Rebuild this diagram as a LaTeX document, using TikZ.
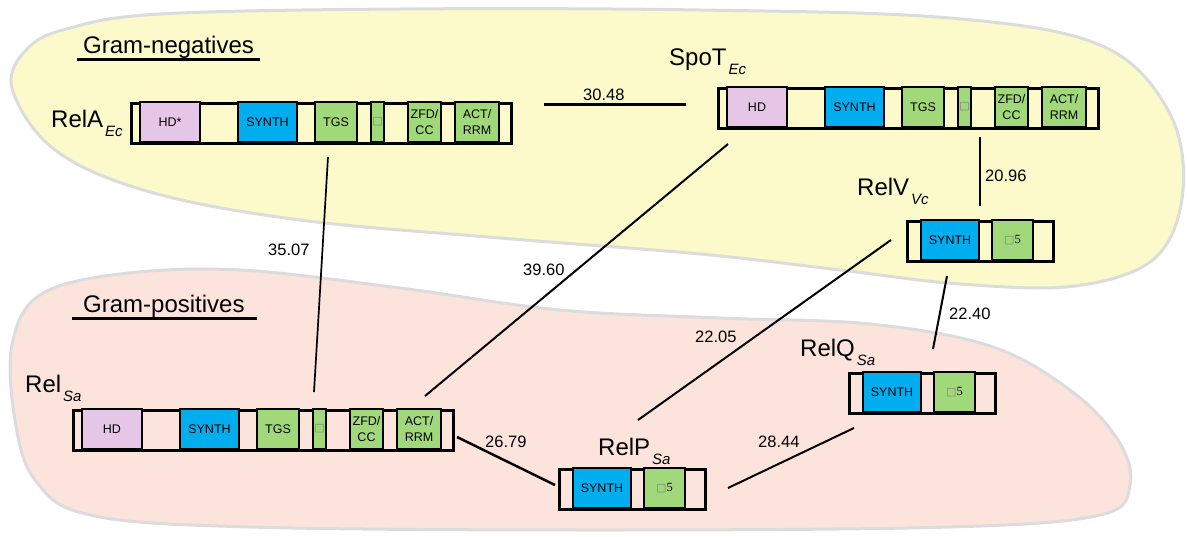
\documentclass[tikz,border=0pt]{standalone}
\usepackage{fontspec}
\setmainfont{Liberation Sans}
\newfontfamily\symfont{DejaVu Sans}
\newfontfamily\serfont{Liberation Serif}

\definecolor{negyellow}{HTML}{FCF9CA}
\definecolor{pospink}{HTML}{FCE4DD}
\definecolor{hdpurple}{HTML}{E6C6E6}
\definecolor{synthblue}{HTML}{00AEEF}
\definecolor{domgreen}{HTML}{A1D97A}
\definecolor{blobline}{HTML}{DCDCDC}

\tikzset{
  relframe/.style={draw, line width=2.5pt, minimum height=40pt, inner sep=0pt, anchor=north west},
  dom/.style={draw, line width=2.5pt, minimum height=40pt, inner sep=0pt,
    font=\fontsize{12.5}{16}\selectfont, align=center},
  hd/.style={dom, fill=hdpurple},
  synth/.style={dom, fill=synthblue},
  grn/.style={dom, fill=domgreen},
  protname/.style={font=\fontsize{24}{24}\selectfont, inner sep=0pt, anchor=base west},
  grouplbl/.style={font=\fontsize{24}{24}\selectfont, inner sep=0pt, anchor=base west},
  dist/.style={font=\fontsize{16.5}{16.5}\selectfont, inner sep=0pt, anchor=base west},
  link/.style={line width=2pt},
  blob/.style={draw=blobline, line width=3pt},
}

\newcommand{\sub}[1]{\kern2pt\raisebox{-9pt}{\fontsize{15}{15}\selectfont\itshape #1}}
\newcommand{\sqglyph}{{\symfont\fontsize{11}{11}\selectfont\color{black!50}□}}

% long protein: name, x, y, HD label
\newcommand{\longrel}[4]{%
  \begin{scope}[shift={(#2,#3)}]
    \node[relframe, minimum width=380pt] (#1) at (0,0) {};
    \node[hd, minimum width=60pt] (#1-hd) at (40,20) {#4};
    \node[synth, minimum width=59pt] (#1-syn) at (137.5,20) {SYNTH};
    \node[grn, minimum width=42pt] (#1-tgs) at (206,20) {TGS};
    \node[grn, minimum width=13pt] (#1-sm) at (247.5,20) {\sqglyph};
    \node[grn, minimum width=33pt] (#1-zfd) at (294.5,20) {ZFD/\\CC};
    \node[grn, minimum width=44pt] (#1-act) at (347,20) {ACT/\\RRM};
  \end{scope}}

% short protein: name, x, y
\newcommand{\shortrel}[3]{%
  \begin{scope}[shift={(#2,#3)}]
    \node[relframe, minimum width=146pt] (#1) at (0,0) {};
    \node[synth, minimum width=58pt] (#1-syn) at (44,20) {SYNTH};
    \node[grn, minimum width=41pt] (#1-d5) at (106.5,20) {\sqglyph{\serfont 5}};
  \end{scope}}

\begin{document}
\begin{tikzpicture}[x=1pt, y=-1pt]
  \useasboundingbox (0,0) rectangle (1187,536);
  % background groups
  \draw[blob, fill=negyellow] plot[smooth cycle, tension=0.6] coordinates {
    (12,88) (28,48) (70,28) (160,14) (400,9) (700,10) (950,18) (1100,45)
    (1168,110) (1183,190) (1155,258) (1075,286) (960,284) (840,270)
    (700,254) (500,238) (300,220) (150,192) (55,150)};
  \draw[blob, fill=pospink] plot[smooth cycle, tension=0.6] coordinates {
    (12,345) (40,295) (120,274) (240,270) (400,288) (560,310) (720,318)
    (870,324) (990,346) (1070,390) (1118,440) (1130,485) (1100,515)
    (950,527) (600,530) (250,527) (90,515) (35,480) (15,420)};

  \node[grouplbl] (gneg) at (83,53) {Gram-negatives};
  \draw[line width=3pt] ([xshift=-6pt,yshift=-6.5pt]gneg.base west)
    -- ([xshift=6pt,yshift=-6.5pt]gneg.base east);
  \node[grouplbl] (gpos) at (83,312) {Gram-positives};
  \draw[line width=3pt] ([xshift=-11pt,yshift=-6pt]gpos.base west)
    -- ([xshift=12pt,yshift=-6pt]gpos.base east);

  % proteins
  \longrel{relA}{130}{102}{HD*}
  \longrel{spoT}{717}{87}{HD}
  \longrel{relSa}{72}{409}{HD}
  \shortrel{relV}{906}{220}
  \shortrel{relP}{558}{468}
  \shortrel{relQ}{848}{372}

  \node[protname] (nRelA) at (51,127) {RelA\sub{Ec}};
  \node[protname] (nSpoT) at (669,65) {SpoT\sub{Ec}};
  \node[protname] (nRelV) at (857,195) {RelV\sub{Vc}};
  \node[protname] (nRelSa) at (25,392) {Rel\sub{Sa}};
  \node[protname] (nRelP) at (598,455) {RelP\sub{Sa}};
  \node[protname] (nRelQ) at (800,356) {RelQ\sub{Sa}};

  % identity links
  \coordinate (relA-e) at (544,104);  \coordinate (spoT-w) at (686,104);
  \coordinate (relA-s) at (328,157);  \coordinate (relSa-n) at (314,392);
  \coordinate (spoT-sw) at (728,144); \coordinate (relSa-ne) at (425,396);
  \coordinate (spoT-s) at (980,137);  \coordinate (relV-n) at (980,206);
  \coordinate (relV-sw) at (891,240); \coordinate (relP-n) at (638,420);
  \coordinate (relV-s) at (947,276);  \coordinate (relQ-n) at (933,349);
  \coordinate (relSa-e) at (457,437); \coordinate (relP-w) at (555,485);
  \coordinate (relQ-sw) at (854,428); \coordinate (relP-e) at (728,488);

  \draw[link, line width=3pt] (relA-e) -- (spoT-w);
  \draw[link, line width=1.7pt] (relA-s) -- (relSa-n);
  \draw[link] (spoT-sw) -- (relSa-ne);
  \draw[link] (spoT-s) -- (relV-n);
  \draw[link] (relV-sw) -- (relP-n);
  \draw[link] (relV-s) -- (relQ-n);
  \draw[link, line width=2.5pt] (relSa-e) -- (relP-w);
  \draw[link] (relQ-sw) -- (relP-e);

  \node[dist] (d1) at (583,100) {30.48};
  \node[dist] (d2) at (268,255) {35.07};
  \node[dist] (d3) at (523,275) {39.60};
  \node[dist] (d4) at (985,181) {20.96};
  \node[dist] (d5) at (695,342) {22.05};
  \node[dist] (d6) at (949,319) {22.40};
  \node[dist] (d7) at (485,447) {26.79};
  \node[dist] (d8) at (758,447) {28.44};
\end{tikzpicture}
\end{document}
